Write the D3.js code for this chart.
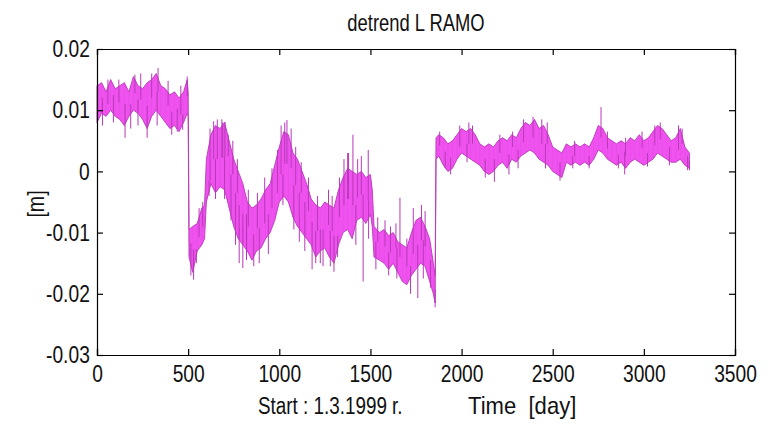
<!DOCTYPE html>
<html><head><meta charset="utf-8">
<script src="https://cdn.jsdelivr.net/npm/d3@7"></script>
<style>
html,body{margin:0;padding:0;background:#fff;}
svg{display:block;}
text{font-family:"Liberation Sans",Arial,sans-serif;fill:#111;}
</style></head><body>
<svg id="chart" width="771" height="433"></svg>
<script>
const title = "detrend L RAMO";
const xLabel = "Time  [day]";
const startLabel = "Start : 1.3.1999 r.";
const yLabel = "[m]";
const xTicks = [0,500,1000,1500,2000,2500,3000,3500];
const xTickLabels = ["0","500","1000","1500","2000","2500","3000","3500"];
const yTicks = [0.02,0.01,0,-0.01,-0.02,-0.03];
const yTickLabels = ["0.02","0.01","0","-0.01","-0.02","-0.03"];

const days = [0,25,50,75,100,125,150,175,200,225,250,275,300,325,350,375,400,425,450,475,495,500,
  505,525,550,575,590,600,625,650,675,700,725,750,775,800,825,850,875,900,925,950,975,1000,
  1025,1050,1075,1100,1125,1150,1175,1200,1225,1250,1275,1300,1325,1350,1375,1400,1425,1450,1475,1500,
  1510,1520,1550,1575,1600,1625,1650,1675,1700,1725,1750,1775,1800,1825,1845,1855,
  1860,1875,1900,1925,1950,1975,2000,2025,2050,2075,2100,2125,2150,2175,2200,2225,2250,2275,2300,
  2325,2350,2375,2400,2425,2450,2475,2500,2525,2550,2575,2600,2625,2650,2675,2700,2725,2750,2775,
  2800,2825,2850,2875,2900,2925,2950,2975,3000,3025,3050,3075,3100,3125,3150,3175,3200,3225,3250];
const upper = [0.0140,0.0145,0.0130,0.0150,0.0135,0.0140,0.0145,0.0130,0.0155,0.0140,0.0135,0.0145,0.0150,0.0160,0.0140,0.0135,0.0125,0.0130,0.0120,0.0130,0.0150,0.0130,
  -0.0095,-0.0090,-0.0085,-0.0060,-0.0055,0.0020,0.0060,0.0075,0.0070,0.0080,0.0050,0.0020,0.0000,-0.0020,-0.0050,-0.0060,-0.0055,-0.0045,-0.0030,-0.0020,0.0010,0.0040,
  0.0065,0.0060,0.0030,0.0020,0.0000,-0.0020,-0.0045,-0.0055,-0.0060,-0.0050,-0.0055,-0.0060,-0.0030,-0.0010,0.0005,0.0000,-0.0005,0.0000,-0.0010,-0.0005,
  -0.0030,-0.0090,-0.0100,-0.0095,-0.0105,-0.0100,-0.0115,-0.0120,-0.0125,-0.0100,-0.0080,-0.0075,-0.0090,-0.0110,-0.0150,-0.0170,
  0.0055,0.0060,0.0055,0.0045,0.0050,0.0060,0.0070,0.0065,0.0070,0.0060,0.0045,0.0040,0.0045,0.0040,0.0050,0.0055,0.0050,0.0060,0.0055,
  0.0070,0.0080,0.0075,0.0085,0.0070,0.0075,0.0060,0.0040,0.0035,0.0030,0.0045,0.0040,0.0045,0.0040,0.0045,0.0040,0.0055,0.0075,0.0070,
  0.0055,0.0050,0.0045,0.0050,0.0045,0.0055,0.0050,0.0060,0.0050,0.0055,0.0065,0.0075,0.0070,0.0060,0.0050,0.0055,0.0070,0.0040,0.0030];
const lower = [0.0080,0.0095,0.0090,0.0100,0.0090,0.0085,0.0075,0.0090,0.0100,0.0095,0.0085,0.0070,0.0090,0.0100,0.0090,0.0080,0.0070,0.0075,0.0065,0.0080,0.0095,0.0090,
  -0.0140,-0.0165,-0.0130,-0.0120,-0.0110,-0.0050,-0.0020,-0.0035,-0.0025,-0.0030,-0.0060,-0.0090,-0.0110,-0.0120,-0.0130,-0.0145,-0.0130,-0.0125,-0.0110,-0.0100,-0.0080,-0.0050,
  -0.0040,-0.0050,-0.0075,-0.0090,-0.0100,-0.0110,-0.0120,-0.0140,-0.0130,-0.0125,-0.0140,-0.0150,-0.0120,-0.0100,-0.0095,-0.0110,-0.0080,-0.0075,-0.0085,-0.0070,
  -0.0090,-0.0140,-0.0145,-0.0150,-0.0160,-0.0150,-0.0165,-0.0180,-0.0185,-0.0170,-0.0160,-0.0150,-0.0155,-0.0180,-0.0200,-0.0215,
  0.0020,0.0025,0.0010,0.0000,0.0005,0.0020,0.0030,0.0025,0.0020,0.0015,0.0010,0.0000,-0.0005,0.0000,0.0010,0.0015,0.0005,0.0020,0.0015,
  0.0025,0.0030,0.0035,0.0030,0.0020,0.0015,0.0010,0.0000,-0.0005,-0.0010,0.0015,0.0010,0.0015,0.0010,0.0015,0.0010,0.0020,0.0035,0.0030,
  0.0020,0.0015,0.0010,0.0015,0.0005,0.0015,0.0020,0.0015,0.0010,0.0015,0.0020,0.0030,0.0025,0.0020,0.0015,0.0015,0.0020,0.0010,0.0005];

// individual spikes: day, value
const spikeDays = [208,335,495,685,702,1042,1065,1270,1380,1404,1488,1662,2392,2765,
  154,275,530,780,800,860,1180,1240,1300,1460,1760,1855,2180,3250,
  60,120,240,300,390,460,30,90,185,225,330,410,440,470,
  515,545,560,580,620,640,660,690,615,650,700,
  720,745,770,830,880,920,960,990,735,760,820,890,940,
  1010,1030,1090,1120,1160,1210,1290,1330,1355,1375,1020,1080,1110,1140,1200,1225,1280,1320,
  1430,1450,1540,1580,1610,1640,1700,1735,1780,1800,1420,1490,1530,1600,1645,1720,1790,1830,
  1880,1990,2040,2060,2210,2280,2340,2440,2470,2620,2800,2900,2990,3060,3090,3190,3210,
  1910,1940,2030,2130,2260,2310,2460,2540,2610,2700,2860,2895,3020,3140,3240];
const spikeVals = [0.0158,0.0169,0.0155,0.0085,0.0081,0.0084,0.0070,-0.0030,0.0030,0.0060,0.0035,-0.0043,0.0089,0.0105,
  0.0055,0.0055,-0.0177,-0.0150,-0.0158,-0.0155,-0.0160,-0.0155,-0.0164,-0.0180,-0.0207,-0.0222,-0.0017,0.0002,
  0.0150,0.0150,0.0160,0.0160,0.0148,0.0140,0.0075,0.0080,0.0070,0.0075,0.0075,0.0060,0.0065,0.0068,
  -0.0170,-0.0150,-0.0060,-0.0050,0.0070,0.0082,0.0085,0.0080,-0.0040,-0.0045,-0.0045,
  0.0060,0.0050,0.0020,-0.0030,-0.0035,-0.0010,0.0005,0.0035,-0.0080,-0.0120,-0.0145,-0.0150,-0.0135,
  0.0075,0.0080,0.0040,0.0015,-0.0010,-0.0040,-0.0040,-0.0010,0.0020,0.0030,-0.0055,-0.0095,-0.0115,-0.0130,-0.0150,-0.0150,-0.0155,-0.0140,
  0.0020,0.0025,-0.0075,-0.0080,-0.0090,-0.0085,-0.0110,-0.0060,-0.0055,-0.0065,-0.0120,-0.0110,-0.0160,-0.0170,-0.0175,-0.0200,-0.0175,-0.0190,
  0.0065,0.0075,0.0080,0.0075,0.0060,0.0065,0.0085,0.0085,0.0080,0.0050,0.0065,0.0055,0.0065,0.0075,0.0080,0.0075,0.0070,
  0.0005,-0.0005,0.0015,-0.0010,-0.0005,0.0005,0.0005,-0.0015,0.0005,0.0005,0.0005,-0.0005,0.0008,0.0010,0.0002];

const svg = d3.select("#chart");
const L = 97, R = 735, T = 49, B = 355;
const x = d3.scaleLinear().domain([0,3500]).range([L,R]);
const y = d3.scaleLinear().domain([-0.03,0.02]).range([B,T]);

const pts = days.map((d,i)=>({d, hi:upper[i], lo:lower[i]}));

// band
svg.append("path").datum(pts)
  .attr("d", d3.area().x(p=>x(p.d)).y0(p=>y(p.lo)).y1(p=>y(p.hi)))
  .attr("fill","#f052f0").attr("stroke","#b838b8").attr("stroke-width",0.9);

// inner texture
svg.append("g").selectAll("line").data(pts).join("line")
  .attr("x1",p=>x(p.d)).attr("x2",p=>x(p.d))
  .attr("y1",p=>y(p.hi)).attr("y2",p=>y(p.lo))
  .attr("stroke","#d846d8").attr("stroke-width",0.6).attr("opacity",0.45);

// spikes
const mid = d => {
  let i = d3.bisectRight(days, d) - 1;
  i = Math.max(0, Math.min(i, days.length-1));
  return (upper[i] + lower[i]) / 2;
};
svg.append("g").selectAll("line").data(spikeDays).join("line")
  .attr("x1",d=>x(d)).attr("x2",d=>x(d))
  .attr("y1",d=>y(mid(d))).attr("y2",(d,i)=>y(spikeVals[i]))
  .attr("stroke","#b838b8").attr("stroke-width",1);

// axes box
const sx = 0.8;
const gL = svg.append("g").attr("transform",`translate(${L},0)`)
  .call(d3.axisLeft(y).tickValues(yTicks).tickSize(-6).tickPadding(9).tickFormat((d,i)=>yTickLabels[i]));
const gR = svg.append("g").attr("transform",`translate(${R},0)`)
  .call(d3.axisRight(y).tickValues(yTicks).tickSize(-6).tickFormat(""));
const gB = svg.append("g").attr("transform",`translate(0,${B})`)
  .call(d3.axisBottom(x).tickValues(xTicks).tickSize(-6).tickPadding(10).tickFormat((d,i)=>xTickLabels[i]));
const gT = svg.append("g").attr("transform",`translate(0,${T})`)
  .call(d3.axisTop(x).tickValues(xTicks).tickSize(-6).tickFormat(""));
[gL,gR,gB,gT].forEach(g=>{
  g.select(".domain").attr("stroke","#000").attr("stroke-width",1.2);
  g.selectAll(".tick line").attr("stroke","#000").attr("stroke-width",1.2);
  g.selectAll("text").attr("font-family",null).style("font-size","24px").attr("fill","#111")
    .attr("transform",`scale(${sx},1)`);
});

const txt = (s, tx, ty, anchor, size, k) => svg.append("text")
  .attr("transform",`translate(${tx},${ty}) scale(${k},1)`)
  .attr("text-anchor",anchor).style("font-size",size).style("white-space","pre").text(s);
txt(title, 416, 31, "middle", "23px", sx);
txt(startLabel, 258, 414, "start", "23px", 0.82);
txt(xLabel, 468, 414, "start", "24px", 0.92);
svg.append("text").attr("transform","translate(44,204) rotate(-90) scale(0.85,1)").attr("text-anchor","middle")
  .style("font-size","23px").text(yLabel);
</script>
</body></html>
